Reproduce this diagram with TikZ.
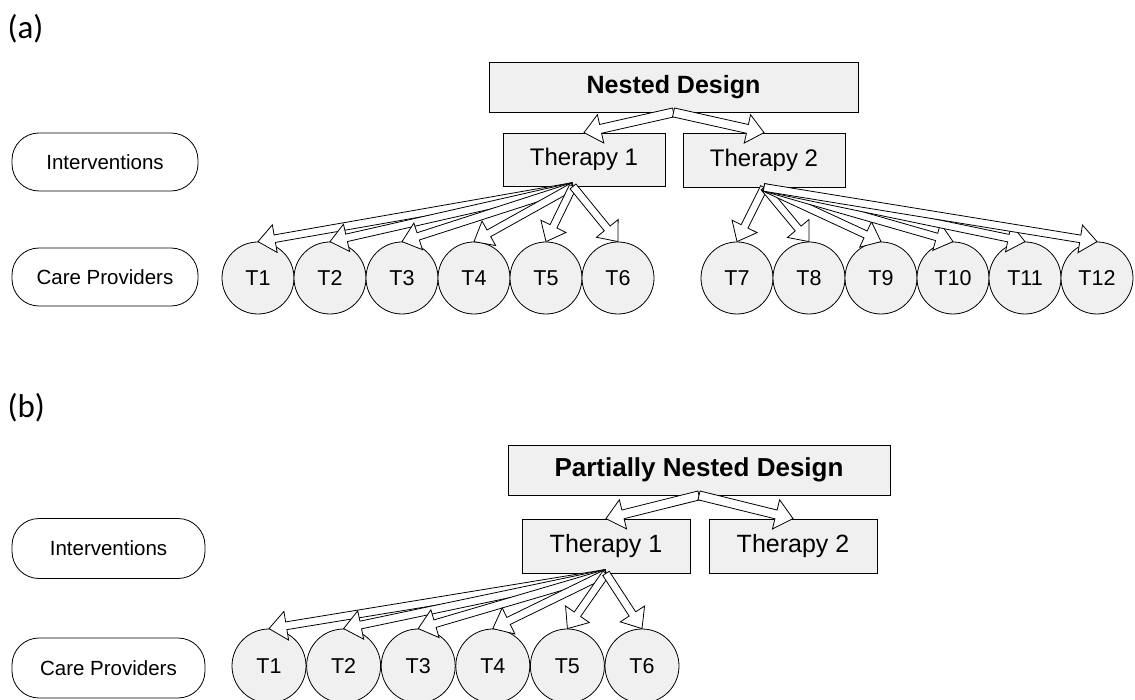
\documentclass[tikz,border=0pt]{standalone}
\usepackage{fontspec}
\setmainfont{Liberation Sans}
\newfontfamily\labfont{Carlito}
\usetikzlibrary{calc}
\definecolor{boxfill}{RGB}{240,240,240}
\tikzset{
  sqbox/.style={draw=black, fill=boxfill, line width=0.8pt, inner sep=0pt},
  tnode/.style={draw=black, fill=boxfill, line width=0.8pt, circle, inner sep=0pt, minimum size=72pt, font=\fontsize{21.5}{23}\selectfont},
  pill/.style={draw=black, fill=white, line width=0.8pt, rounded corners=27pt, minimum width=186pt, minimum height=58pt, inner sep=0pt, font=\fontsize{20.5}{22}\selectfont},
  barrowstyle/.style={draw=black, fill=white, line width=0.8pt, line join=miter},
}
% #1 start, #2 tip, #3 shaft half width, #4 head half width, #5 head length
\newcommand{\blockarrow}[5]{%
  \draw[barrowstyle]
    ($(#1)!#3pt!90:(#2)$) --
    ($(#2)!#5pt!(#1)!#3pt!-90:(#1)$) --
    ($(#2)!#5pt!(#1)!#4pt!-90:(#1)$) --
    (#2) --
    ($(#2)!#5pt!(#1)!#4pt!90:(#1)$) --
    ($(#2)!#5pt!(#1)!#3pt!90:(#1)$) --
    ($(#1)!#3pt!-90:(#2)$) -- cycle;}
\begin{document}
\begin{tikzpicture}[x=1pt, y=-1pt]
\useasboundingbox (0,0) rectangle (1135,700);

% ---------------- (a) ----------------
\node[anchor=west, font=\labfont\fontsize{33}{35}\selectfont] (la) at (4,29) {(a)};

\node[pill] (inta) at (105,162) {Interventions};
\node[pill] (cpa) at (105,277) {Care Providers};

\node[sqbox, minimum width=369pt, minimum height=50pt, font=\bfseries\fontsize{25}{27}\selectfont] (nd) at (673.5,87) {Nested Design};
\node[sqbox, minimum width=162pt, minimum height=53pt, font=\fontsize{24}{26}\selectfont] (tha1) at (584,159.5) {Therapy 1};
\node[sqbox, minimum width=162pt, minimum height=54pt, font=\fontsize{24}{26}\selectfont] (tha2) at (764,160) {Therapy 2};

\foreach \i in {1,...,6} {
  \node[tnode] (ca\i) at ({258+72*(\i-1)},278) {T\i};
}
\foreach \i [evaluate=\i as \k using int(\i+6)] in {1,...,6} {
  \node[tnode] (ca\k) at ({737+72*(\i-1)},278) {T\k};
}

\coordinate (tha1s) at ([xshift=-11pt]tha1.south);
\blockarrow{nd.south}{tha1.north}{4.5}{14.5}{17}
\blockarrow{nd.south}{tha2.north}{4.5}{14.5}{17}
\foreach \i in {1,...,6} {
  \blockarrow{tha1s}{ca\i.north}{3.8}{14}{17}
}
\foreach \i in {7,...,12} {
  \blockarrow{tha2.south}{ca\i.north}{3.8}{14}{17}
}

% ---------------- (b) ----------------
\node[anchor=west, font=\labfont\fontsize{33}{35}\selectfont] (lb) at (4,408) {(b)};

\node[pill, minimum width=193pt, minimum height=60pt] (intb) at (108.5,548.5) {Interventions};
\node[pill, minimum width=193pt, minimum height=60pt] (cpb) at (108.5,668) {Care Providers};

\node[sqbox, minimum width=382pt, minimum height=50pt, font=\bfseries\fontsize{26}{28}\selectfont] (pnd) at (699,470) {Partially Nested Design};
\node[sqbox, minimum width=168pt, minimum height=54pt, font=\fontsize{25}{27}\selectfont] (thb1) at (606,546) {Therapy 1};
\node[sqbox, minimum width=168pt, minimum height=54pt, font=\fontsize{25}{27}\selectfont] (thb2) at (793,546) {Therapy 2};

\foreach \i in {1,...,6} {
  \node[tnode, minimum size=74pt] (cb\i) at ({269+74.6*(\i-1)},666) {T\i};
}

\blockarrow{pnd.south}{thb1.north}{4.5}{15}{17.5}
\blockarrow{pnd.south}{thb2.north}{4.5}{15}{17.5}
\foreach \i in {1,...,6} {
  \blockarrow{thb1.south}{cb\i.north}{3.9}{14.5}{17.5}
}
\end{tikzpicture}
\end{document}
